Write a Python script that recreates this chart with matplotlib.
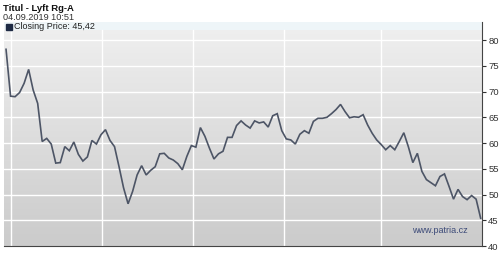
import numpy as np
import matplotlib
matplotlib.use("Agg")
import matplotlib.pyplot as plt

plt.rcParams['font.family'] = ['Liberation Sans', 'DejaVu Sans']

title = "Titul - Lyft Rg-A"
timestamp = "04.09.2019 10:51"
legend_label = "Closing Price: 45,42"
watermark = "www.patria.cz"

prices = [
    78.2, 69.1, 69.0, 69.8, 71.6, 74.3, 70.3, 67.7, 60.3, 60.9,
    59.8, 56.1, 56.2, 59.3, 58.5, 60.2, 57.8, 56.5, 57.3, 60.5,
    59.8, 61.6, 62.6, 60.5, 59.3, 55.4, 51.3, 48.2, 50.6, 53.8,
    55.6, 53.8, 54.7, 55.4, 57.9, 58.0, 57.1, 56.7, 56.0, 54.8,
    57.4, 59.5, 59.2, 63.0, 61.3, 59.0, 56.9, 57.9, 58.4, 61.1,
    61.1, 63.4, 64.3, 63.5, 62.9, 64.3, 63.9, 64.1, 63.1, 65.3,
    65.7, 62.4, 60.8, 60.6, 59.8, 61.7, 62.4, 61.9, 64.2, 64.8,
    64.8, 65.0, 65.7, 66.5, 67.5, 66.1, 64.9, 65.1, 65.0, 65.5,
    63.5, 61.9, 60.6, 59.7, 58.7, 59.5, 58.7, 60.3, 62.0, 59.3,
    56.2, 58.0, 54.5, 52.9, 52.3, 51.7, 53.5, 54.0, 51.6, 49.1,
    51.0, 49.6, 49.0, 49.8, 49.1, 45.4,
]
y_ticks = [40, 45, 50, 55, 60, 65, 70, 75, 80]
month_grid = [1.1, 21.2, 41.4, 61.6, 82.9]

fig = plt.figure(figsize=(5.0, 2.56), dpi=100)
fig.patch.set_facecolor("white")
ax = fig.add_axes([0.008, 0.039, 0.956, 0.875])

x = np.arange(len(prices))
xmin, xmax = -0.45, 105.3
ymin, ymax = 40, 83.5
ax.set_xlim(xmin, xmax)
ax.set_ylim(ymin, ymax)

# gradient background
grad = np.linspace(0, 1, 256).reshape(-1, 1)
top_c = np.array([0xf0, 0xf0, 0xf0]) / 255
bot_c = np.array([0xcb, 0xcb, 0xcb]) / 255
img = top_c[None, None, :] * (1 - grad[:, :, None]) + bot_c[None, None, :] * grad[:, :, None]
ax.imshow(img, extent=[xmin, xmax, ymin, ymax], aspect="auto", origin="upper", zorder=0)

# legend band
ax.axhspan(81.94, ymax, color="#eef5f8", zorder=1, lw=0)

for g in y_ticks[1:]:
    ax.axhline(g, color="white", lw=1.0, zorder=2)
for g in month_grid:
    ax.plot([g, g], [ymin, 81.94], color="white", lw=1.0, zorder=2)

ax.plot(x, prices, color="#4d5566", lw=1.2, zorder=3, solid_joinstyle="miter")

ax.yaxis.tick_right()
ax.set_yticks(y_ticks)
ax.set_yticklabels([str(v) for v in y_ticks])
ax.tick_params(axis="y", direction="out", length=3, width=0.8, colors="#333333",
               labelsize=6.8, pad=1.5)
ax.set_xticks([])
for s in ["top", "left"]:
    ax.spines[s].set_visible(False)
ax.spines["right"].set_color("#444444")
ax.spines["right"].set_linewidth(0.8)
ax.spines["bottom"].set_color("#444444")
ax.spines["bottom"].set_linewidth(0.8)

fig.text(0.006, 0.968, title, fontsize=6.8, fontweight="bold", color="#111111",
         va="center", ha="left")
fig.text(0.006, 0.931, timestamp, fontsize=6.6, color="#333333", va="center", ha="left")
fig.patches.append(matplotlib.patches.Rectangle((0.011, 0.884), 0.012, 0.024,
                   transform=fig.transFigure, color="#1e2a44", figure=fig))
fig.text(0.028, 0.896, legend_label, fontsize=6.5, color="#222222", va="center", ha="left")

ax.text(0.97, 0.07, watermark, transform=ax.transAxes, fontsize=6.5, color="#3c4a78",
        ha="right", va="center", zorder=4)

fig.savefig("out.png", dpi=100, facecolor="white")
